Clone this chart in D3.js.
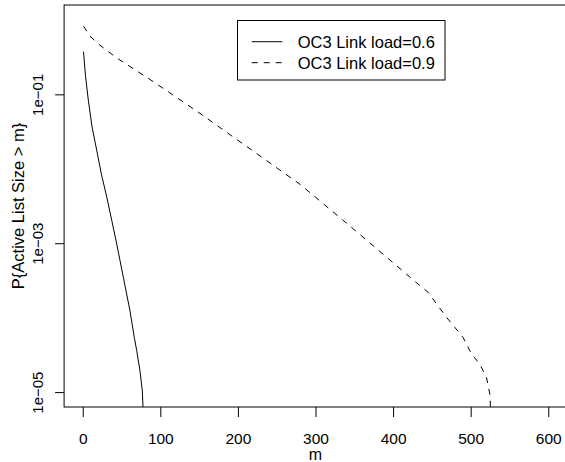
<!DOCTYPE html>
<html>
<head>
<meta charset="utf-8">
<script src="https://cdn.jsdelivr.net/npm/d3@7"></script>
<style>
  html, body { margin: 0; padding: 0; background: #fff; }
  svg { display: block; font-family: "Liberation Sans", Arial, Helvetica, sans-serif; }
</style>
</head>
<body>
<svg id="chart" width="565" height="462"></svg>
<script>
// ---- data ----
const seriesNames = ["OC3 Link load=0.6", "OC3 Link load=0.9"];
const load06_m = [1, 3.5, 7.2, 12, 18, 24, 31, 37.4, 43.8, 52.3, 60.9, 66.5, 69.6, 73.8, 76.8, 79];
const load06_p = [0.375, 0.18, 0.0837, 0.0365, 0.0178, 8.5e-3, 4.17e-3, 2.03e-3, 9.8e-4, 3.5e-4, 1.24e-4, 5.4e-5, 3.6e-5, 1.93e-5, 1.04e-5, 3e-6];
const load09_m = [1, 9.4, 20.1, 43.8, 80.3, 91, 151.1, 279.9, 335.7, 391.6, 434.5, 445.2, 456, 468.9, 479.6, 490.3, 501.1, 511.8, 520.4, 524.7, 527];
const load09_p = [0.824, 0.604, 0.475, 0.308, 0.175, 0.148, 0.0555, 6.2e-3, 2.03e-3, 6.5e-4, 2.7e-4, 2.19e-4, 1.53e-4, 1.01e-4, 7.4e-5, 5.4e-5, 3.25e-5, 2.38e-5, 1.57e-5, 9.4e-6, 3e-6];
const xTicks = [0, 100, 200, 300, 400, 500, 600];
const yTicks = [1e-1, 1e-3, 1e-5];
const yTickLabels = ["1e\u221201", "1e\u221203", "1e\u221205"];
const xTitle = "m";
const yTitle = "P{Active List Size > m}";

// ---- layout ----
const svg = d3.select("#chart");
const pL = 64.1, pR = 566.9, pT = 5, pB = 407;
const x = d3.scaleLinear().domain([-24, 624]).range([pL, pR]);
const y = d3.scaleLog().domain([Math.pow(10, 0.2), Math.pow(10, -5.2)]).range([pT, pB]);

svg.append("defs").append("clipPath").attr("id", "plotclip")
  .append("rect").attr("x", pL).attr("y", pT).attr("width", pR - pL).attr("height", pB - pT);

const line = d3.line().x(d => x(d[0])).y(d => y(d[1]));
const s1 = load06_m.map((m, i) => [m, load06_p[i]]);
const s2 = load09_m.map((m, i) => [m, load09_p[i]]);

const g = svg.append("g").attr("clip-path", "url(#plotclip)");
g.append("path").datum(s1).attr("d", line)
  .attr("fill", "none").attr("stroke", "#000").attr("stroke-width", 1);
g.append("path").datum(s2).attr("d", line)
  .attr("fill", "none").attr("stroke", "#000").attr("stroke-width", 1).attr("stroke-dasharray", "6,6");

// box
svg.append("rect").attr("x", pL).attr("y", pT).attr("width", pR - pL).attr("height", pB - pT)
  .attr("fill", "none").attr("stroke", "#000").attr("stroke-width", 1);

// x axis
const xAxis = d3.axisBottom(x).tickValues(xTicks).tickSize(10).tickFormat(d3.format("d"));
const gx = svg.append("g").attr("transform", `translate(0,${pB})`).call(xAxis);
gx.select(".domain").remove();
gx.selectAll("text").attr("font-size", 15.5).attr("fill", "#000").attr("dy", null).attr("y", 37);
gx.selectAll("line").attr("stroke", "#000");

// y axis
const yAxis = d3.axisLeft(y).tickValues(yTicks).tickSize(9).tickFormat((d, i) => yTickLabels[i]);
const gy = svg.append("g").attr("transform", `translate(${pL},0)`).call(yAxis);
gy.select(".domain").remove();
gy.selectAll("line").attr("stroke", "#000");
gy.selectAll("text")
  .attr("font-size", 15).attr("fill", "#000")
  .attr("x", null).attr("dy", null)
  .attr("text-anchor", "middle")
  .attr("transform", `translate(${42.5 - pL},0) rotate(-90)`)
  .attr("y", 0);

// titles
svg.append("text").attr("x", (pL + pR) / 2).attr("y", 460).attr("text-anchor", "middle")
  .attr("font-size", 16).text(xTitle);
svg.append("text").attr("transform", `translate(24,${(pT + pB) / 2}) rotate(-90)`).attr("text-anchor", "middle")
  .attr("font-size", 16.5).text(yTitle);

// legend
const lg = svg.append("g");
lg.append("rect").attr("x", 237.5).attr("y", 20.5).attr("width", 207.5).attr("height", 59.5)
  .attr("fill", "#fff").attr("stroke", "#000").attr("stroke-width", 1);
const rowsY = [41.7, 62.7];
seriesNames.forEach((name, i) => {
  lg.append("line").attr("x1", 251.7).attr("x2", 282.3).attr("y1", rowsY[i]).attr("y2", rowsY[i])
    .attr("stroke", "#000").attr("stroke-width", 1).attr("stroke-dasharray", i === 1 ? "6,6" : null);
  lg.append("text").attr("x", 297.7).attr("y", rowsY[i] + 5.8).attr("font-size", 16.5).text(name);
});
</script>
</body>
</html>
